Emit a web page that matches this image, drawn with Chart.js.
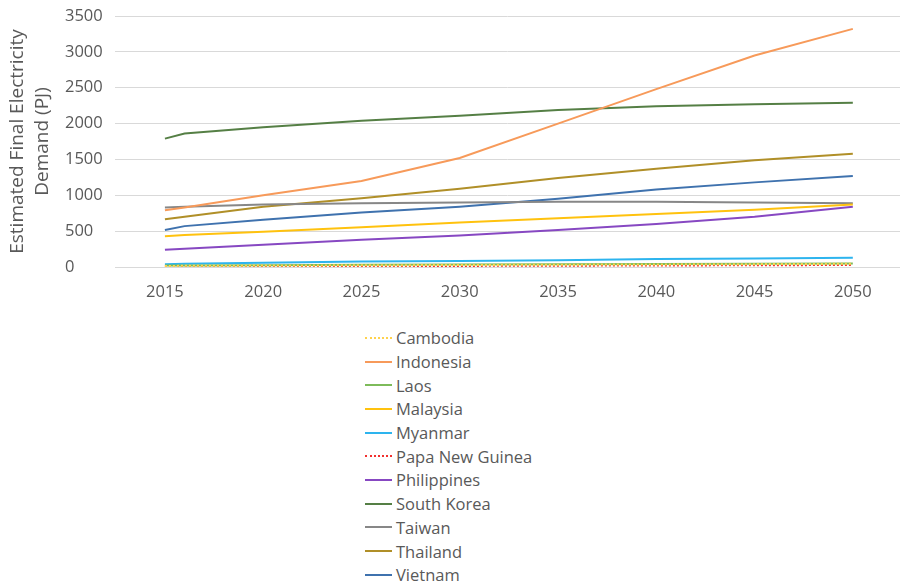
<!DOCTYPE html>
<html>
<head>
<meta charset="utf-8">
<script src="https://cdn.jsdelivr.net/npm/chart.js@4/dist/chart.umd.min.js"></script>
<style>
  html, body { margin: 0; padding: 0; background: #fff; }
  #wrap { position: relative; width: 906px; height: 584px; font-family: "Open Sans", sans-serif; }
  #box { position: absolute; left: 0; top: 0; width: 906px; height: 312px; }
  #legend { position: absolute; left: 365px; top: 326px; color: #595959; font-size: 16.5px; }
  .item { height: 23.7px; display: flex; align-items: center; }
  .swatch { width: 27px; height: 0; margin-right: 4px; }
</style>
</head>
<body>
<div id="wrap">
  <div id="box"><canvas id="myChart"></canvas></div>
  <div id="legend"></div>
</div>
<script>
const years = [2015, 2016, 2020, 2025, 2030, 2035, 2040, 2045, 2050];
const xTicks = [2015, 2020, 2025, 2030, 2035, 2040, 2045, 2050];

const cambodia = [15, 16, 20, 24, 28, 32, 36, 40, 45];
const indonesia = [790, 830, 1000, 1200, 1520, 2000, 2480, 2950, 3320];
const laos = [20, 21, 25, 30, 34, 38, 42, 46, 50];
const malaysia = [430, 445, 490, 555, 620, 680, 740, 800, 870];
const myanmar = [40, 45, 60, 75, 85, 95, 110, 120, 130];
const papuaNewGuinea = [8, 9, 11, 13, 15, 18, 21, 24, 28];
const philippines = [240, 255, 310, 380, 440, 515, 600, 700, 840];
const southKorea = [1790, 1860, 1950, 2040, 2110, 2190, 2240, 2270, 2290];
const taiwan = [830, 840, 870, 890, 900, 910, 910, 900, 890];
const thailand = [665, 700, 840, 960, 1090, 1240, 1370, 1490, 1580];
const vietnam = [515, 570, 660, 760, 840, 950, 1080, 1180, 1270];

const series = [
  { label: "Cambodia", data: cambodia, color: "#FFD24D", dash: [2, 2] },
  { label: "Indonesia", data: indonesia, color: "#F79A5A" },
  { label: "Laos", data: laos, color: "#7DBB5A" },
  { label: "Malaysia", data: malaysia, color: "#FFC20E" },
  { label: "Myanmar", data: myanmar, color: "#2DB4EE" },
  { label: "Papa New Guinea", data: papuaNewGuinea, color: "#F2302E", dash: [2, 2] },
  { label: "Philippines", data: philippines, color: "#8748C2" },
  { label: "South Korea", data: southKorea, color: "#557F45" },
  { label: "Taiwan", data: taiwan, color: "#878787" },
  { label: "Thailand", data: thailand, color: "#B08F28" },
  { label: "Vietnam", data: vietnam, color: "#3F72AE" },
];

const ctx = document.getElementById("myChart");

const myChart = new Chart(ctx, {
  type: "line",
  data: {
    datasets: series.map((s) => ({
      label: s.label,
      data: s.data.map((v, i) => ({ x: years[i], y: v })),
      borderColor: s.color,
      backgroundColor: s.color,
      borderWidth: 2,
      borderDash: s.dash || [],
      pointRadius: 0,
      fill: false,
      tension: 0,
    })),
  },
  options: {
    responsive: true,
    maintainAspectRatio: false,
    animation: false,
    layout: { padding: { top: 16, right: 6 } },
    plugins: { legend: { display: false }, tooltip: { enabled: false } },
    scales: {
      x: {
        type: "linear",
        min: 2012.46,
        max: 2052.4,
        afterBuildTicks: (scale) => {
          scale.ticks = xTicks.map((v) => ({ value: v }));
        },
        afterFit: (scale) => {
          scale.height = 45;
        },
        grid: { display: false },
        border: { display: false },
        ticks: {
          color: "#595959",
          font: { family: "Open Sans", size: 16.5 },
          padding: 7,
          callback: (v) => String(v),
        },
      },
      y: {
        min: 0,
        max: 3500,
        afterFit: (scale) => {
          scale.width = 115;
        },
        ticks: {
          stepSize: 500,
          color: "#595959",
          font: { family: "Open Sans", size: 16.5 },
          mirror: true,
          padding: -50,
          callback: (v) => String(v),
        },
        grid: { color: "#d9d9d9", lineWidth: 1, drawTicks: false },
        border: { display: false },
        title: {
          display: true,
          text: ["Estimated Final Electricity", "Demand (PJ)"],
          color: "#595959",
          font: { family: "Open Sans", size: 19, lineHeight: 1.32 },
          padding: { top: 5, bottom: 0 },
        },
      },
    },
  },
});

// legend in one column under the plot
const legend = document.getElementById("legend");
myChart.data.datasets.forEach((ds) => {
  const row = document.createElement("div");
  row.className = "item";
  const sw = document.createElement("span");
  sw.className = "swatch";
  sw.style.borderTop = "2.5px " + (ds.borderDash.length ? "dotted " : "solid ") + ds.borderColor;
  row.appendChild(sw);
  row.appendChild(document.createTextNode(ds.label));
  legend.appendChild(row);
});
</script>
</body>
</html>
